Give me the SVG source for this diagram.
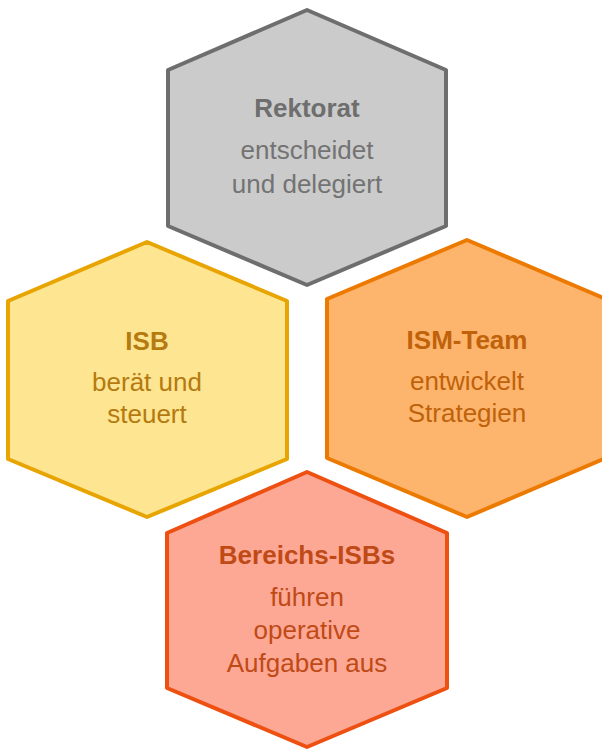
<svg xmlns="http://www.w3.org/2000/svg" width="602" height="749" viewBox="0 0 602 749">
<style>
.hex{stroke-width:4;stroke-linejoin:round}
text{font-family:"Liberation Sans",Arial,sans-serif;font-size:26px;text-anchor:middle}
.t{font-weight:bold}
</style>
<rect width="602" height="749" fill="#ffffff"/>
<g id="rektorat">
<polygon class="hex" points="307,10 446,70 446,226 307,285 168,226 168,70" fill="#cbcbcb" stroke="#6e6e6e"/>
<text class="t" x="307" y="117" fill="#6e6e6e">Rektorat</text>
<text x="307" y="159" fill="#737373">entscheidet</text>
<text x="307" y="193" fill="#737373">und delegiert</text>
</g>
<g id="isb">
<polygon class="hex" points="147,242 287,301 287,459 147,517 8,459 8,301" fill="#fde592" stroke="#e8a400"/>
<text class="t" x="147" y="350" fill="#b57a10">ISB</text>
<text x="147" y="391" fill="#b57a10">berät und</text>
<text x="147" y="423" fill="#b57a10">steuert</text>
</g>
<g id="ismteam">
<polygon class="hex" points="467,240 606,299 606,458 467,517 327,458 327,299" fill="#fdb46c" stroke="#ed7a00"/>
<text class="t" x="467" y="349" fill="#c0620a">ISM-Team</text>
<text x="467" y="390" fill="#c0620a">entwickelt</text>
<text x="467" y="422" fill="#c0620a">Strategien</text>
</g>
<g id="bereichs">
<polygon class="hex" points="307,472 447,533 447,688 307,747 167,688 167,533" fill="#fda895" stroke="#ed5010"/>
<text class="t" x="307" y="564" fill="#c04a15">Bereichs-ISBs</text>
<text x="307" y="606" fill="#c04a15">führen</text>
<text x="307" y="639" fill="#c04a15">operative</text>
<text x="307" y="672" fill="#c04a15">Aufgaben aus</text>
</g>
<g id="connectors"></g>
</svg>
